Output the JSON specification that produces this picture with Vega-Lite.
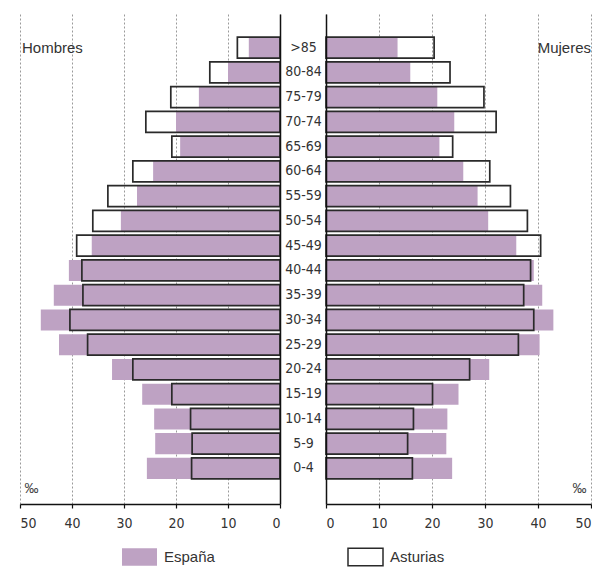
{
  "$schema": "https://vega.github.io/schema/vega-lite/v6.json",
  "padding": {"left": 19, "top": 14, "right": 0, "bottom": 0},
  "bounds": "flush",
  "spacing": 46,
  "data": {"values": [
    {"edad": ">85", "sexo": "H", "serie": "España", "v": 6.0},
    {"edad": "80-84", "sexo": "H", "serie": "España", "v": 10.0},
    {"edad": "75-79", "sexo": "H", "serie": "España", "v": 15.6},
    {"edad": "70-74", "sexo": "H", "serie": "España", "v": 20.0},
    {"edad": "65-69", "sexo": "H", "serie": "España", "v": 19.2},
    {"edad": "60-64", "sexo": "H", "serie": "España", "v": 24.4},
    {"edad": "55-59", "sexo": "H", "serie": "España", "v": 27.5},
    {"edad": "50-54", "sexo": "H", "serie": "España", "v": 30.6},
    {"edad": "45-49", "sexo": "H", "serie": "España", "v": 36.2},
    {"edad": "40-44", "sexo": "H", "serie": "España", "v": 40.6},
    {"edad": "35-39", "sexo": "H", "serie": "España", "v": 43.5},
    {"edad": "30-34", "sexo": "H", "serie": "España", "v": 46.0},
    {"edad": "25-29", "sexo": "H", "serie": "España", "v": 42.5},
    {"edad": "20-24", "sexo": "H", "serie": "España", "v": 32.3},
    {"edad": "15-19", "sexo": "H", "serie": "España", "v": 26.5},
    {"edad": "10-14", "sexo": "H", "serie": "España", "v": 24.2},
    {"edad": "5-9", "sexo": "H", "serie": "España", "v": 24.0},
    {"edad": "0-4", "sexo": "H", "serie": "España", "v": 25.6},
    {"edad": ">85", "sexo": "M", "serie": "España", "v": 13.5},
    {"edad": "80-84", "sexo": "M", "serie": "España", "v": 15.9},
    {"edad": "75-79", "sexo": "M", "serie": "España", "v": 21.0},
    {"edad": "70-74", "sexo": "M", "serie": "España", "v": 24.2},
    {"edad": "65-69", "sexo": "M", "serie": "España", "v": 21.4},
    {"edad": "60-64", "sexo": "M", "serie": "España", "v": 25.9},
    {"edad": "55-59", "sexo": "M", "serie": "España", "v": 28.6},
    {"edad": "50-54", "sexo": "M", "serie": "España", "v": 30.6},
    {"edad": "45-49", "sexo": "M", "serie": "España", "v": 35.9},
    {"edad": "40-44", "sexo": "M", "serie": "España", "v": 39.2},
    {"edad": "35-39", "sexo": "M", "serie": "España", "v": 40.8},
    {"edad": "30-34", "sexo": "M", "serie": "España", "v": 42.9},
    {"edad": "25-29", "sexo": "M", "serie": "España", "v": 40.3},
    {"edad": "20-24", "sexo": "M", "serie": "España", "v": 30.8},
    {"edad": "15-19", "sexo": "M", "serie": "España", "v": 25.0},
    {"edad": "10-14", "sexo": "M", "serie": "España", "v": 22.9},
    {"edad": "5-9", "sexo": "M", "serie": "España", "v": 22.7},
    {"edad": "0-4", "sexo": "M", "serie": "España", "v": 23.8},
    {"edad": ">85", "sexo": "H", "serie": "Asturias", "v": 8.2},
    {"edad": "80-84", "sexo": "H", "serie": "Asturias", "v": 13.5},
    {"edad": "75-79", "sexo": "H", "serie": "Asturias", "v": 21.0},
    {"edad": "70-74", "sexo": "H", "serie": "Asturias", "v": 25.8},
    {"edad": "65-69", "sexo": "H", "serie": "Asturias", "v": 20.8},
    {"edad": "60-64", "sexo": "H", "serie": "Asturias", "v": 28.3},
    {"edad": "55-59", "sexo": "H", "serie": "Asturias", "v": 33.1},
    {"edad": "50-54", "sexo": "H", "serie": "Asturias", "v": 36.0},
    {"edad": "45-49", "sexo": "H", "serie": "Asturias", "v": 39.1},
    {"edad": "40-44", "sexo": "H", "serie": "Asturias", "v": 38.1},
    {"edad": "35-39", "sexo": "H", "serie": "Asturias", "v": 37.9},
    {"edad": "30-34", "sexo": "H", "serie": "Asturias", "v": 40.4},
    {"edad": "25-29", "sexo": "H", "serie": "Asturias", "v": 37.0},
    {"edad": "20-24", "sexo": "H", "serie": "Asturias", "v": 28.3},
    {"edad": "15-19", "sexo": "H", "serie": "Asturias", "v": 20.8},
    {"edad": "10-14", "sexo": "H", "serie": "Asturias", "v": 17.2},
    {"edad": "5-9", "sexo": "H", "serie": "Asturias", "v": 16.9},
    {"edad": "0-4", "sexo": "H", "serie": "Asturias", "v": 17.0},
    {"edad": ">85", "sexo": "M", "serie": "Asturias", "v": 20.4},
    {"edad": "80-84", "sexo": "M", "serie": "Asturias", "v": 23.4},
    {"edad": "75-79", "sexo": "M", "serie": "Asturias", "v": 29.8},
    {"edad": "70-74", "sexo": "M", "serie": "Asturias", "v": 32.1},
    {"edad": "65-69", "sexo": "M", "serie": "Asturias", "v": 23.9},
    {"edad": "60-64", "sexo": "M", "serie": "Asturias", "v": 30.9},
    {"edad": "55-59", "sexo": "M", "serie": "Asturias", "v": 34.8},
    {"edad": "50-54", "sexo": "M", "serie": "Asturias", "v": 38.0},
    {"edad": "45-49", "sexo": "M", "serie": "Asturias", "v": 40.5},
    {"edad": "40-44", "sexo": "M", "serie": "Asturias", "v": 38.6},
    {"edad": "35-39", "sexo": "M", "serie": "Asturias", "v": 37.3},
    {"edad": "30-34", "sexo": "M", "serie": "Asturias", "v": 39.2},
    {"edad": "25-29", "sexo": "M", "serie": "Asturias", "v": 36.3},
    {"edad": "20-24", "sexo": "M", "serie": "Asturias", "v": 27.1},
    {"edad": "15-19", "sexo": "M", "serie": "Asturias", "v": 20.1},
    {"edad": "10-14", "sexo": "M", "serie": "Asturias", "v": 16.5},
    {"edad": "5-9", "sexo": "M", "serie": "Asturias", "v": 15.4},
    {"edad": "0-4", "sexo": "M", "serie": "Asturias", "v": 16.3}
  ]},
  "hconcat": [
    {
      "width": 260,
      "height": 490,
      "layer": [
        {
          "transform": [{"filter": "datum.sexo === 'H'"}],
          "mark": {"type": "bar", "strokeWidth": 1.7},
          "encoding": {
            "y": {"field": "edad", "type": "nominal",
              "scale": {"domain": [">85","80-84","75-79","70-74","65-69","60-64","55-59","50-54","45-49","40-44","35-39","30-34","25-29","20-24","15-19","10-14","5-9","0-4"], "paddingInner": 0.15, "paddingOuter": 0.975, "align": 0.48},
              "axis": {"orient": "right", "labels": false, "ticks": false, "domain": true, "domainColor": "#111", "domainWidth": 1.5, "title": null, "zindex": 2}},
            "x": {"field": "v", "type": "quantitative", "stack": null,
              "scale": {"domain": [0, 50], "reverse": true, "nice": false},
              "axis": {"values": [0,10,20,30,40,50], "title": "‰", "titleX": 11, "titleY": -16, "titleAlign": "center", "titleBaseline": "middle", "titleFontSize": 14, "titleFontWeight": "normal", "titleColor": "#444", "titleFont": "Liberation Sans"}},
            "fill": {"field": "serie", "type": "nominal",
              "scale": {"domain": ["España", "Asturias"], "range": ["#bea2c3", "transparent"]},
              "legend": {"title": null}},
            "stroke": {"field": "serie", "type": "nominal",
              "scale": {"domain": ["España", "Asturias"], "range": ["transparent", "#2a2a2a"]},
              "legend": {"title": null}}
          }
        },
        {
          "data": {"values": [{"lab": "Hombres", "edad": ">85", "pos": 50}]},
          "mark": {"type": "text", "align": "left", "baseline": "middle", "dx": 2, "fontSize": 15, "font": "Liberation Sans", "color": "#333"},
          "encoding": {
            "x": {"field": "pos", "type": "quantitative"},
            "y": {"field": "edad", "type": "nominal"},
            "text": {"field": "lab"}
          }
        }
      ]
    },
    {
      "width": 265,
      "height": 490,
      "layer": [
        {
          "transform": [{"filter": "datum.sexo === 'M'"}],
          "mark": {"type": "bar", "strokeWidth": 1.7},
          "encoding": {
            "y": {"field": "edad", "type": "nominal",
              "scale": {"domain": [">85","80-84","75-79","70-74","65-69","60-64","55-59","50-54","45-49","40-44","35-39","30-34","25-29","20-24","15-19","10-14","5-9","0-4"], "paddingInner": 0.15, "paddingOuter": 0.975, "align": 0.48},
              "axis": {"orient": "left", "ticks": false, "domain": true, "domainColor": "#111", "domainWidth": 1.5, "title": null, "zindex": 2, "labelAlign": "center", "labelPadding": 23, "labelFontSize": 14, "labelFont": "DejaVu Sans Condensed", "labelColor": "#333"}},
            "x": {"field": "v", "type": "quantitative", "stack": null,
              "scale": {"domain": [0, 50], "nice": false},
              "axis": {"values": [0,10,20,30,40,50], "title": "‰", "titleX": 253, "titleY": -16, "titleAlign": "center", "titleBaseline": "middle", "titleFontSize": 14, "titleFontWeight": "normal", "titleColor": "#444", "titleFont": "Liberation Sans"}},
            "fill": {"field": "serie", "type": "nominal",
              "scale": {"domain": ["España", "Asturias"], "range": ["#bea2c3", "transparent"]},
              "legend": {"title": null}},
            "stroke": {"field": "serie", "type": "nominal",
              "scale": {"domain": ["España", "Asturias"], "range": ["transparent", "#2a2a2a"]},
              "legend": {"title": null}}
          }
        },
        {
          "data": {"values": [{"lab": "Mujeres", "edad": ">85", "pos": 50}]},
          "mark": {"type": "text", "align": "right", "baseline": "middle", "dx": 0, "fontSize": 15, "font": "Liberation Sans", "color": "#333"},
          "encoding": {
            "x": {"field": "pos", "type": "quantitative"},
            "y": {"field": "edad", "type": "nominal"},
            "text": {"field": "lab"}
          }
        }
      ]
    }
  ],
  "resolve": {"scale": {"fill": "shared", "stroke": "shared"}},
  "config": {
    "view": {"stroke": null},
    "axisX": {
      "grid": true, "gridColor": "#9a9a9a", "gridDash": [2, 2], "gridWidth": 1,
      "domainColor": "#111", "domainWidth": 1.5, "tickColor": "#111", "tickSize": 4, "tickWidth": 1.2,
      "labelFont": "DejaVu Sans Condensed", "labelFontSize": 14, "labelColor": "#333", "labelPadding": 8
    },
    "axisY": {"grid": false},
    "legend": {
      "orient": "none", "legendX": 101, "legendY": 524, "direction": "horizontal",
      "symbolType": "M-1,-0.5H1V0.5H-1Z", "symbolSize": 1225, "symbolStrokeWidth": 1.5,
      "labelFont": "Liberation Sans", "labelFontSize": 15, "labelColor": "#333", "labelOffset": 6,
      "columnPadding": 130
    }
  }
}
